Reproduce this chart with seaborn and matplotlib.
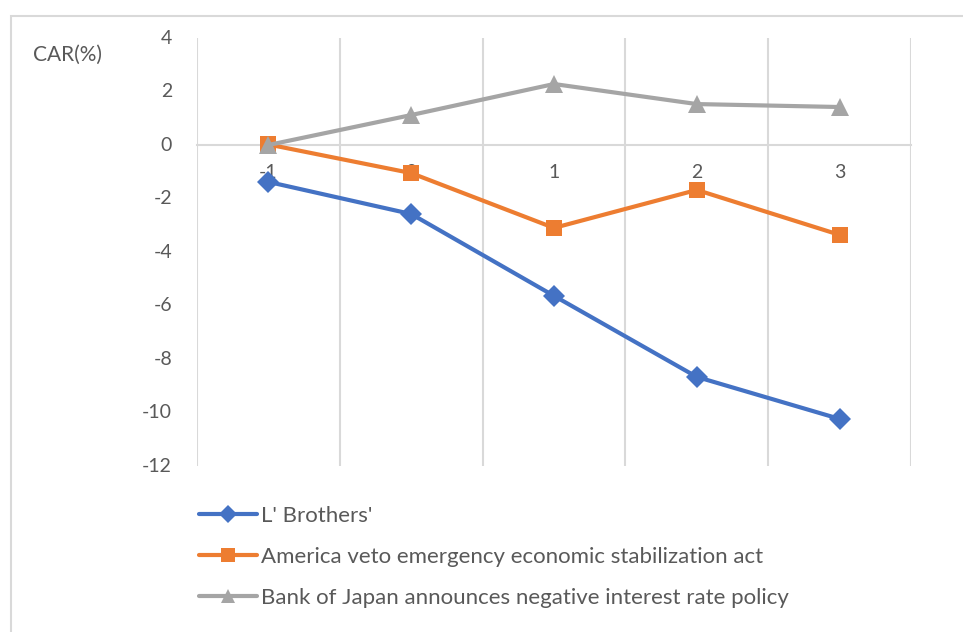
import matplotlib
matplotlib.use("Agg")
import matplotlib.pyplot as plt
from matplotlib.patches import Rectangle
import seaborn as sns
import pandas as pd

# Event-window days and cumulative abnormal returns (%)
days = ["-1", "0", "1", "2", "3"]
lehman = [-1.38, -2.58, -5.64, -8.67, -10.24]
us_veto = [0.02, -1.05, -3.10, -1.68, -3.36]
boj_negative = [0.0, 1.12, 2.28, 1.53, 1.42]

series_names = [
    "L' Brothers'",
    "America veto emergency economic stabilization act",
    "Bank of Japan announces negative interest rate policy",
]
y_ticks = [4, 2, 0, -2, -4, -6, -8, -10, -12]

colors = ["#4472C4", "#ED7D31", "#A5A5A5"]
markers = ["D", "s", "^"]
marker_sizes = [11, 12, 13]
text_color = "#595959"
grid_color = "#D9D9D9"

sns.set_theme(style="white")
plt.rcParams["font.family"] = ["Lato", "DejaVu Sans"]

df = pd.DataFrame({
    "day": list(range(len(days))) * 3,
    "car": lehman + us_veto + boj_negative,
    "event": sum([[n] * len(days) for n in series_names], []),
})

fig = plt.figure(figsize=(9.63, 6.32), dpi=100)
fig.patch.set_facecolor("white")

# Chart-area frame
fig.add_artist(Rectangle((11 / 963, -0.1), 1.2, 1 - 16 / 632 + 0.1,
                         transform=fig.transFigure, fill=False,
                         edgecolor=grid_color, linewidth=1.5))

ax = fig.add_axes([197 / 963, 1 - 466 / 632, 714 / 963, 428 / 632])

# Vertical gridlines between categories
for b in [i - 0.5 for i in range(len(days) + 1)]:
    ax.axvline(b, color=grid_color, linewidth=1.5, zorder=0)

handles = []
for name, c, m, ms in zip(series_names, colors, markers, marker_sizes):
    sub = df[df["event"] == name]
    sns.lineplot(data=sub, x="day", y="car", ax=ax, color=c, linewidth=3,
                 marker=m, markersize=ms, markeredgewidth=0, legend=False,
                 zorder=3)
    handles.append(plt.Line2D([], [], color=c, linewidth=3, marker=m,
                              markersize=ms * 0.8, markeredgewidth=0))

ax.set_xlim(-0.5, len(days) - 0.5)
ax.set_ylim(-12, 4)
ax.set_yticks(y_ticks)
ax.set_yticklabels([str(v) for v in y_ticks])
ax.set_xticks(range(len(days)))
ax.set_xticklabels(days)
ax.set_xlabel("")
ax.set_ylabel("")

for s in ["top", "right", "left"]:
    ax.spines[s].set_visible(False)
ax.spines["bottom"].set_position(("data", 0))
ax.spines["bottom"].set_color(grid_color)
ax.spines["bottom"].set_linewidth(1.5)
ax.spines["bottom"].set_zorder(1)

ax.tick_params(axis="x", length=0, pad=14, labelsize=14, labelcolor=text_color)
ax.tick_params(axis="y", length=0, pad=18, labelsize=14, labelcolor=text_color)
for lbl in ax.get_yticklabels():
    lbl.set_verticalalignment("center")

fig.text(33 / 963, 1 - 55 / 632, "CAR(%)", fontsize=15, color=text_color,
         ha="left", va="center")

leg = fig.legend(handles, series_names, loc="upper left",
                 bbox_to_anchor=(199 / 963, 1 - 506 / 632), frameon=False,
                 fontsize=16, labelcolor=text_color, handlelength=2.6,
                 handletextpad=0.2, labelspacing=0.94, borderpad=0,
                 borderaxespad=0)

fig.savefig("out.png", dpi=100, facecolor="white")
